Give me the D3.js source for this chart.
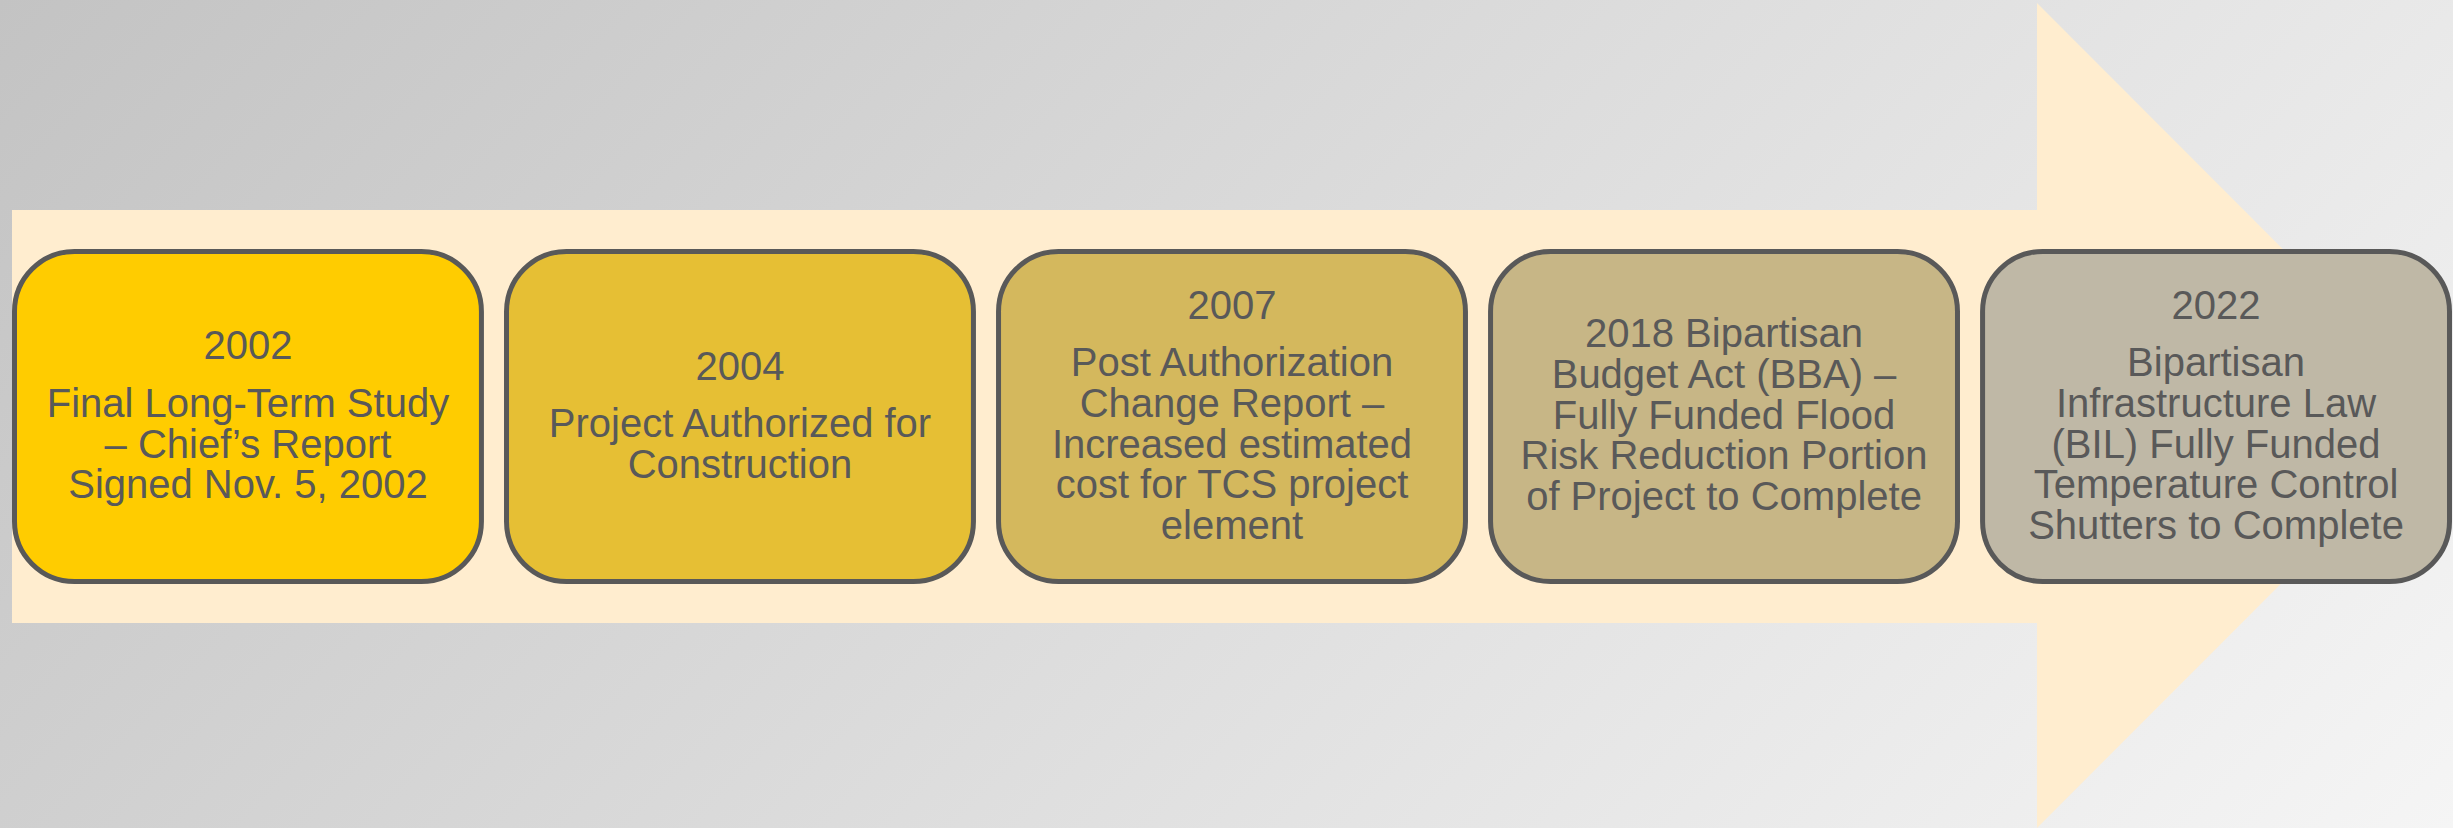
<!DOCTYPE html>
<html>
<head>
<meta charset="utf-8">
<script src="https://cdn.jsdelivr.net/npm/d3@7"></script>
<style>
  html, body { margin: 0; padding: 0; overflow: hidden; }
  svg { display: block; }
</style>
</head>
<body>
<svg id="chart" width="2453" height="828"></svg>
<script>
// Milestones, left to right
const years = ["2002", "2004", "2007", "2018", "2022"];
// Year heading shown on its own line (2018 has it inline with the text)
const yearLabels = ["2002", "2004", "2007", "", "2022"];
const descriptions = [
    ["Final Long-Term Study", "\u2013 Chief\u2019s Report", "Signed Nov. 5, 2002"],
    ["Project Authorized for", "Construction"],
    ["Post Authorization", "Change Report \u2013", "Increased estimated", "cost for TCS project", "element"],
    ["2018 Bipartisan", "Budget Act (BBA) \u2013", "Fully Funded Flood", "Risk Reduction Portion", "of Project to Complete"],
    ["Bipartisan", "Infrastructure Law", "(BIL) Fully Funded", "Temperature Control", "Shutters to Complete"]
];
const palette = ["#ffcc00", "#e6bf34", "#d4b85d", "#c7b686", "#bfb8a6"];

const W = 2453, H = 828;
const svg = d3.select("#chart");

// background gradient
const defs = svg.append("defs");
const grad = defs.append("linearGradient")
    .attr("id", "bg")
    .attr("gradientUnits", "userSpaceOnUse")
    .attr("x1", 0).attr("y1", 0)
    .attr("x2", 1692).attr("y2", 1622);
grad.append("stop").attr("offset", 0).attr("stop-color", "#c3c3c3");
grad.append("stop").attr("offset", 1).attr("stop-color", "#f5f5f5");

svg.append("rect")
    .attr("width", W).attr("height", H)
    .attr("fill", "url(#bg)");

// big arrow behind the boxes
const shaft = { x0: 12, x1: 2037, y0: 210, y1: 623 };
const head = { top: 3, bottom: 828, tip: 2449 };
const arrow = d3.line()([
    [shaft.x0, shaft.y0],
    [shaft.x1, shaft.y0],
    [shaft.x1, head.top],
    [head.tip, (head.top + head.bottom) / 2],
    [shaft.x1, head.bottom],
    [shaft.x1, shaft.y1],
    [shaft.x0, shaft.y1]
]) + "Z";
svg.append("path")
    .attr("d", arrow)
    .attr("fill", "#ffedcf");

// boxes
const x = d3.scaleBand()
    .domain(years)
    .range([14.5, 2449.5])
    .paddingInner(0.051)
    .paddingOuter(0);
const color = d3.scaleOrdinal(years, palette);

const boxTop = 251.5, boxH = 330;
const cy = boxTop + boxH / 2;
const lineH = 40.7, paraGap = 17, fontSize = 40;

const events = years.map((y, i) => ({
    year: y,
    heading: yearLabels[i],
    lines: descriptions[i]
}));

const g = svg.append("g")
    .selectAll("g")
    .data(events)
    .join("g")
    .attr("transform", d => `translate(${x(d.year)},0)`);

g.append("rect")
    .attr("x", 0)
    .attr("y", boxTop)
    .attr("width", x.bandwidth())
    .attr("height", boxH)
    .attr("rx", 60).attr("ry", 60)
    .attr("fill", d => color(d.year))
    .attr("stroke", "#595959")
    .attr("stroke-width", 5);

g.each(function (d) {
    const rows = (d.heading ? [d.heading] : []).concat(d.lines);
    const total = rows.length * lineH + (d.heading ? paraGap : 0);
    let base = cy - total / 2 + 32.6;
    const t = d3.select(this).append("text")
        .attr("text-anchor", "middle")
        .attr("font-family", "'Liberation Sans', Arial, sans-serif")
        .attr("font-size", fontSize)
        .attr("fill", "#595959");
    rows.forEach((r, i) => {
        t.append("tspan")
            .attr("x", x.bandwidth() / 2)
            .attr("y", base)
            .text(r);
        base += lineH + (d.heading && i === 0 ? paraGap : 0);
    });
});
</script>
</body>
</html>
